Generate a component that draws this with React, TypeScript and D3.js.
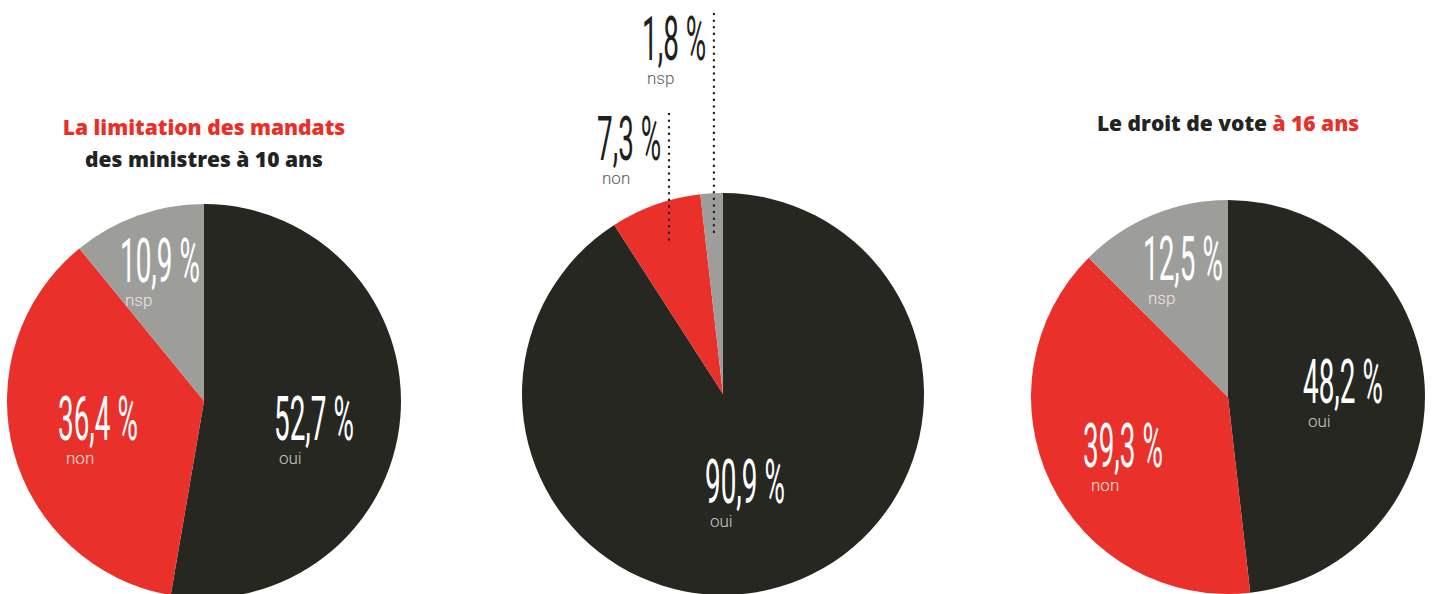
import React from "react";
import * as d3 from "d3";

const categories = ["oui", "non", "nsp"];
const pie1Values = [52.7, 36.4, 10.9];
const pie2Values = [90.9, 7.3, 1.8];
const pie3Values = [48.2, 39.3, 12.5];
const valueLabels1 = ["52,7 %", "36,4 %", "10,9 %"];
const valueLabels2 = ["90,9 %", "7,3 %", "1,8 %"];
const valueLabels3 = ["48,2 %", "39,3 %", "12,5 %"];

const COLORS: Record<string, string> = { oui: "#272722", non: "#e9302a", nsp: "#9d9e9a" };

type Pos = { dx: number; dy: number; out?: boolean };
const W = 1433, H = 594;

const pies = [
  {
    cx: 204, cy: 401, r: 197, values: pie1Values, labels: valueLabels1,
    pos: [{ dx: 70, dy: 39 }, { dx: -146, dy: 39 }, { dx: -84, dy: -119 }] as Pos[],
    title: [[{ t: "La limitation des mandats", c: "#ea2f28" }], [{ t: "des ministres à 10 ans", c: "#22241f" }]],
    titleY: 135,
  },
  {
    cx: 723, cy: 394, r: 201, values: pie2Values, labels: valueLabels2,
    pos: [{ dx: -18, dy: 109 }, { dx: -126, dy: -234, out: true }, { dx: -81, dy: -334, out: true }] as Pos[],
    title: [],
    titleY: 0,
  },
  {
    cx: 1228, cy: 397, r: 197, values: pie3Values, labels: valueLabels3,
    pos: [{ dx: 75, dy: 6 }, { dx: -145, dy: 70 }, { dx: -85, dy: -117 }] as Pos[],
    title: [[{ t: "Le droit de vote ", c: "#22241f" }, { t: "à 16 ans", c: "#ea2f28" }]],
    titleY: 131,
  },
];

const SCALE_X = 0.45;
const BIG = 62;

export default function App() {
  const pieGen = d3.pie<number>().sort(null).value((d) => d);
  const arcGen = d3.arc<d3.PieArcDatum<number>>().innerRadius(0);

  return (
    <svg width={W} height={H} style={{ position: "absolute", left: 0, top: 0, display: "block", background: "#ffffff" }}>
      {pies.map((p, pi) => {
        const arcs = pieGen(p.values);
        return (
          <g key={pi}>
            <g transform={`translate(${p.cx},${p.cy})`}>
              {arcs.map((a, i) => (
                <path key={i} d={arcGen.outerRadius(p.r)(a) as string} fill={COLORS[categories[i]]} />
              ))}
            </g>
            {p.title.map((line, li) => (
              <text key={li} x={p.cx} y={p.titleY + li * 32} textAnchor="middle"
                fontFamily="'Open Sans', Lato, sans-serif" fontWeight={800} fontSize={21}>
                {line.map((s, si) => (
                  <tspan key={si} fill={s.c}>{s.t}</tspan>
                ))}
              </text>
            ))}
            {arcs.map((a, i) => {
              const ps = p.pos[i];
              const x = p.cx + ps.dx;
              const y = p.cy + ps.dy;
              const out = !!ps.out;
              const mid = (a.startAngle + a.endAngle) / 2;
              const lx = p.cx + Math.sin(mid) * p.r * 0.8;
              const ly = p.cy - Math.cos(mid) * p.r * 0.8;
              const label = p.labels[i];
              return (
                <g key={i}>
                  {out && (
                    <line x1={lx} x2={lx} y1={y - 46} y2={ly} stroke="#222" strokeWidth={2.4}
                      strokeDasharray="0.1 6.5" strokeLinecap="round" />
                  )}
                  <text transform={`translate(${x},${y}) scale(${SCALE_X},1)`}
                    fontFamily="Roboto, sans-serif" fontWeight={400} fontSize={BIG}
                    fill={out ? "#1f1f1c" : "#ffffff"}>
                    {label}
                  </text>
                  <text x={x + (i === 1 && !out ? 8 : 5)} y={y + 24} fontFamily="Roboto, sans-serif" fontWeight={300}
                    fontSize={17} fill={out ? "#5a5a58" : i === 0 ? "#c9c9c4" : "#f3e4e0"}>
                    {categories[i]}
                  </text>
                </g>
              );
            })}
          </g>
        );
      })}
    </svg>
  );
}
